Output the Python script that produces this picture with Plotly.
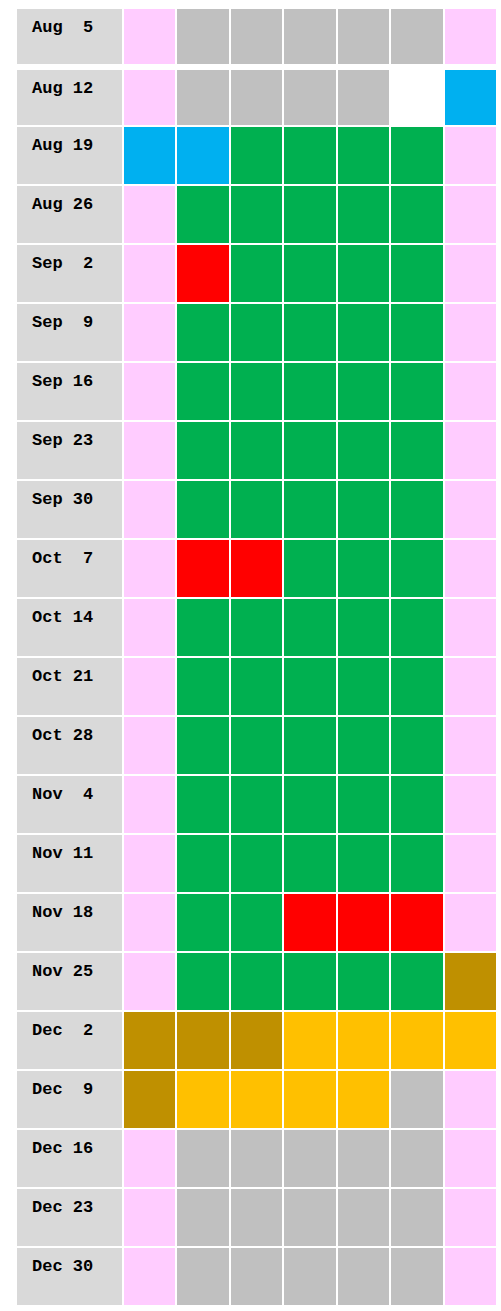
import plotly.graph_objects as go

# ---------------- data ----------------
week_labels = [
    "Aug  5", "Aug 12", "Aug 19", "Aug 26",
    "Sep  2", "Sep  9", "Sep 16", "Sep 23", "Sep 30",
    "Oct  7", "Oct 14", "Oct 21", "Oct 28",
    "Nov  4", "Nov 11", "Nov 18", "Nov 25",
    "Dec  2", "Dec  9", "Dec 16", "Dec 23", "Dec 30",
]

# one string per week, one letter per day column
# P pink, G gray, W white, B blue, N green, R red, D dark gold, Y gold
week_status = [
    "PGGGGGP",
    "PGGGGWB",
    "BBNNNNP",
    "PNNNNNP",
    "PRNNNNP",
    "PNNNNNP",
    "PNNNNNP",
    "PNNNNNP",
    "PNNNNNP",
    "PRRNNNP",
    "PNNNNNP",
    "PNNNNNP",
    "PNNNNNP",
    "PNNNNNP",
    "PNNNNNP",
    "PNNRRRP",
    "PNNNNND",
    "DDDYYYY",
    "DYYYYGP",
    "PGGGGGP",
    "PGGGGGP",
    "PGGGGGP",
]

# ---------------- style ----------------
codes = ["L", "P", "G", "W", "B", "N", "R", "D", "Y"]
colors = ["#D9D9D9", "#FFCCFF", "#C0C0C0", "#FFFFFF", "#00B0F0",
          "#00B050", "#FF0000", "#BF9000", "#FFC000"]
idx = {c: i for i, c in enumerate(codes)}
n = len(codes)
colorscale = []
for i, col in enumerate(colors):
    colorscale.append([i / n, col])
    colorscale.append([(i + 1) / n, col])

W, H = 501, 1311
LEFT_PX = 16
UNIT_PX = 53.44
GAP = 2
FIRST_TOP = 8
FIRST_H = 57
SPACER = 4
SECOND_H = 57
ROW_H = 59

x_edges = [0, 2] + [3 + i for i in range(7)]

# row edges (y in pixels, top-down)
edgesA = [FIRST_TOP, FIRST_TOP + FIRST_H]
start_b = edgesA[1] + SPACER
edgesB = [start_b, start_b + SECOND_H]
for _ in range(len(week_labels) - 2):
    edgesB.append(edgesB[-1] + ROW_H)

def zrow(s):
    # z value i + 0.5 falls in colour band i of the stepped colour scale
    return [idx["L"] + 0.5] + [idx[ch] + 0.5 for ch in s]

fig = go.Figure()
common = dict(colorscale=colorscale, zmin=0, zmax=n, showscale=False,
              xgap=GAP, ygap=GAP, hoverinfo="skip")
fig.add_trace(go.Heatmap(z=[zrow(week_status[0])], x=x_edges, y=edgesA, **common))
fig.add_trace(go.Heatmap(z=[zrow(s) for s in week_status[1:]],
                         x=x_edges, y=edgesB, **common))

tops = [edgesA[0]] + edgesB[:-1]
for lab, top in zip(week_labels, tops):
    fig.add_annotation(x=0, y=top + 1 + 18, xref="x", yref="y", text=lab,
                       showarrow=False, xanchor="left", yanchor="middle",
                       xshift=14,
                       font=dict(family="Liberation Mono, Courier New, monospace",
                                 size=17, color="#000000", weight="bold"))

fig.update_layout(
    width=W, height=H, margin=dict(l=0, r=0, t=0, b=0),
    paper_bgcolor="white", plot_bgcolor="white", showlegend=False,
    xaxis=dict(range=[-LEFT_PX / UNIT_PX, (W - LEFT_PX) / UNIT_PX],
               visible=False, fixedrange=True),
    yaxis=dict(range=[H, 0], visible=False, fixedrange=True),
)
fig.write_html("out.html", config={"displayModeBar": False},
               post_script="document.body.style.margin='0';")
